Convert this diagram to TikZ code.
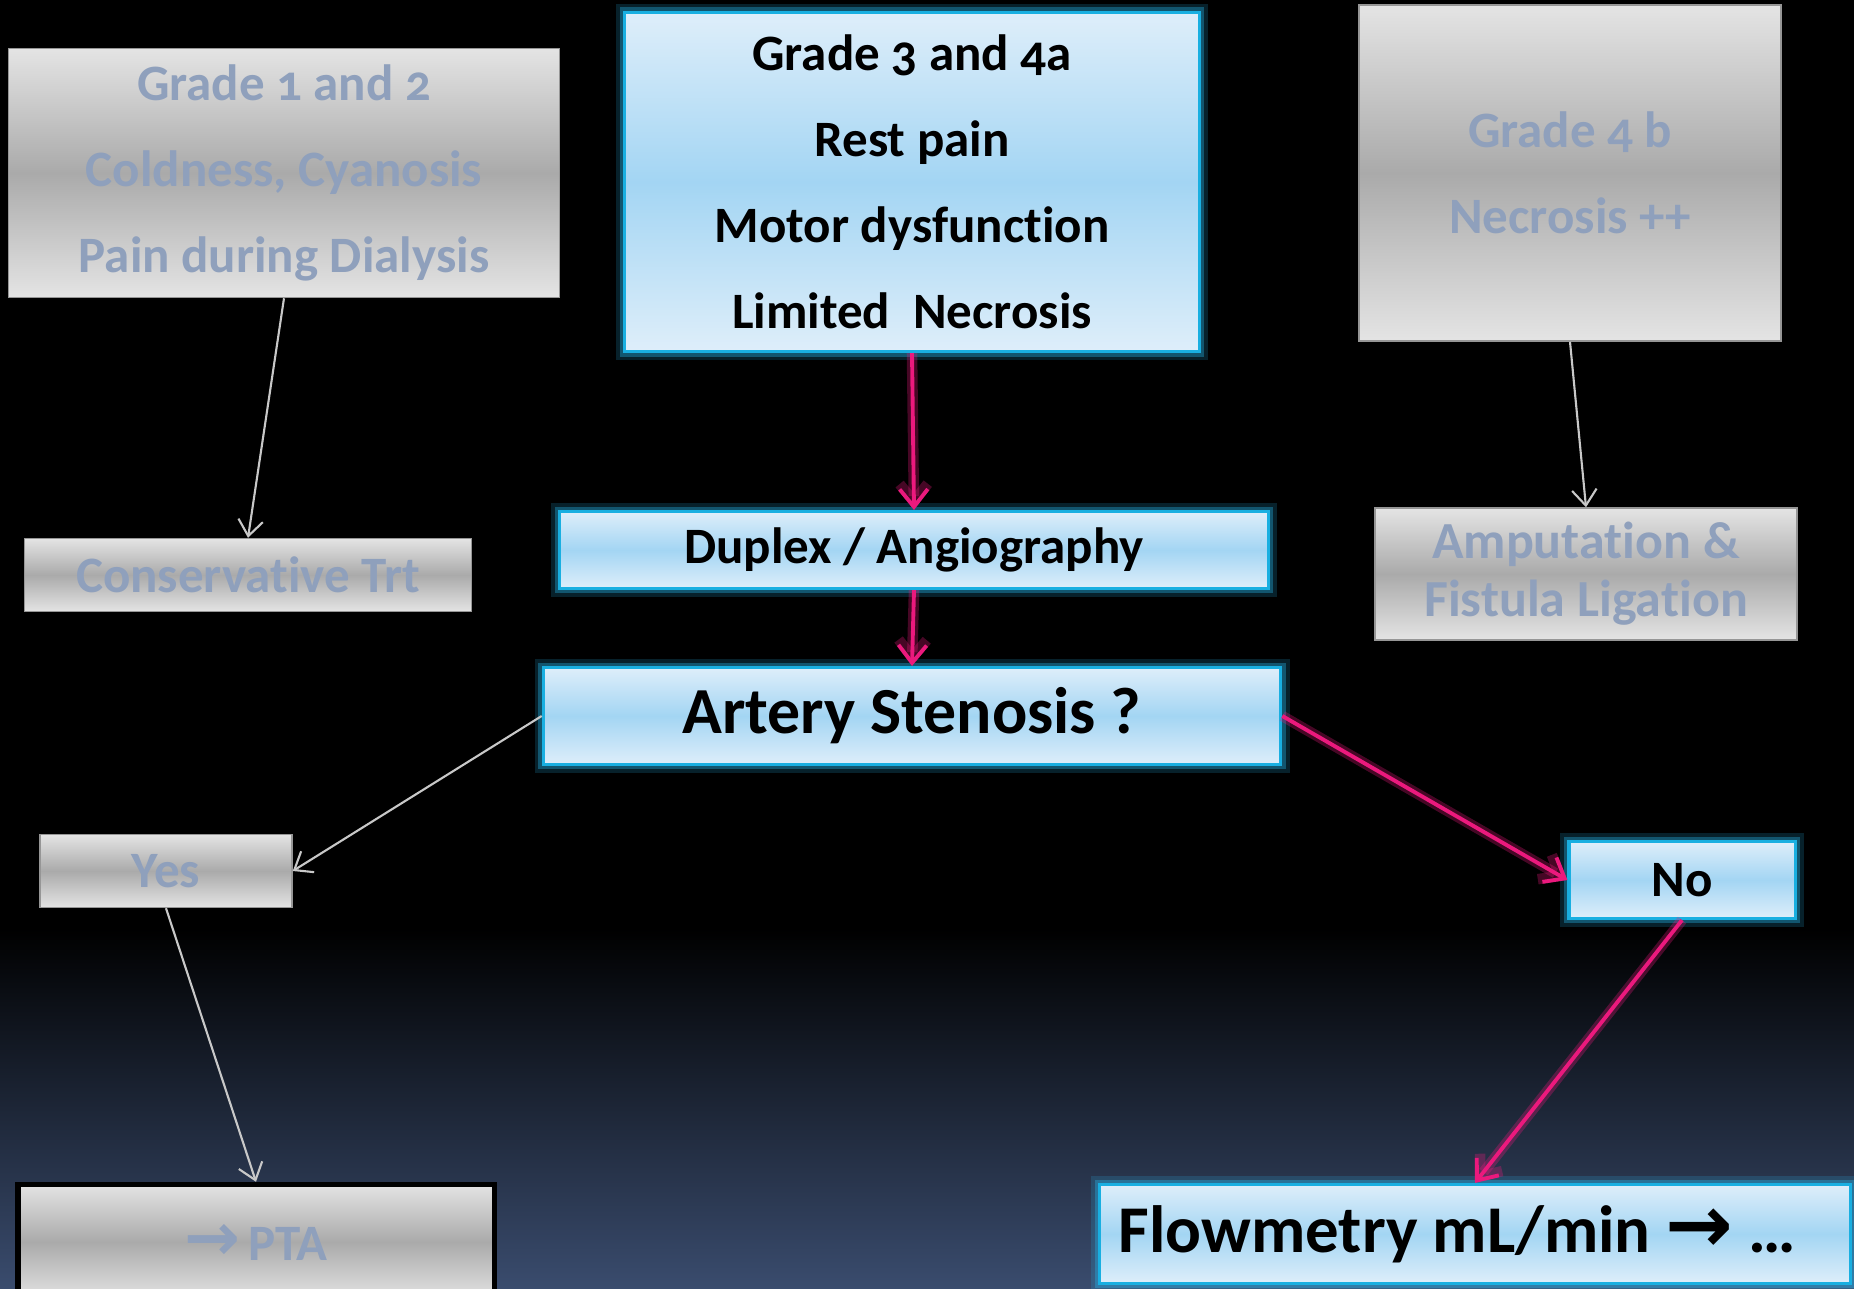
\documentclass[tikz,border=0pt]{standalone}
\usepackage{fontspec}
\setmainfont{Carlito}[Numbers=OldStyle, Ligatures=NoCommon]
\newfontfamily\arrowfont{DejaVu Sans}
\usetikzlibrary{arrows.meta}

\definecolor{bgbottom}{RGB}{58,76,110}
\definecolor{greyhi}{RGB}{228,228,228}
\definecolor{greylo}{RGB}{170,170,170}
\definecolor{greyedge}{RGB}{150,150,150}
\definecolor{greytext}{RGB}{143,160,188}
\definecolor{bluehi}{RGB}{222,238,250}
\definecolor{bluelo}{RGB}{163,213,243}
\definecolor{blueedge}{RGB}{25,175,225}
\definecolor{blueglow}{RGB}{40,185,240}
\definecolor{pinkline}{RGB}{235,25,125}
\definecolor{arrowgrey}{RGB}{200,200,200}

\pgfdeclareverticalshading{slidebg}{100bp}{color(0bp)=(bgbottom); color(25bp)=(bgbottom); color(39bp)=(black); color(100bp)=(black)}

\newcommand{\bigarrow}[1]{{\arrowfont\bfseries\fontsize{#1}{#1}\selectfont →}}

\tikzset{
  greybox/.style={rectangle, inner sep=0pt, draw=greyedge, line width=0.4pt,
    top color=greyhi, bottom color=greyhi, middle color=greylo,
    text=greytext, align=center, font=\fontsize{14.5}{24.5}\selectfont\bfseries},
  bluebox/.style={rectangle, inner sep=0pt, draw=blueedge, line width=0.9pt,
    top color=bluehi, bottom color=bluehi, middle color=bluelo,
    preaction={draw=blueglow, line width=5pt, opacity=0.18},
    preaction={draw=blueglow, line width=2.8pt, opacity=0.35},
    text=black, align=center, font=\fontsize{14.5}{24.5}\selectfont\bfseries},
  pinkarrow/.style={draw=pinkline, line width=1.1pt, -{Straight Barb[length=5pt,width=8pt]},
    preaction={draw=pinkline, line width=3pt, opacity=0.3}},
  greyarrow/.style={draw=arrowgrey, line width=0.6pt, -{Straight Barb[length=4.5pt,width=7pt]}}
}

\begin{document}
\begin{tikzpicture}[x=0.01cm, y=-0.01cm]
\useasboundingbox (0,0) rectangle (1854,1289);
\shade[shading=slidebg] (0,0) rectangle (1854,1289);

% top row
\node[greybox, minimum width=5.51cm, minimum height=2.49cm] (gradeA) at (284,173) {Grade 1 and 2\\Coldness, Cyanosis\\Pain during Dialysis};
\node[bluebox, minimum width=5.74cm, minimum height=3.39cm] (gradeB) at (912,182) {Grade 3 and 4a\\Rest pain\\Motor dysfunction\\Limited\ \ Necrosis};
\node[greybox, minimum width=4.22cm, minimum height=3.36cm] (gradeC) at (1570,173) {Grade 4 b\\Necrosis ++};

% middle
\node[greybox, minimum width=4.47cm, minimum height=0.73cm] (cons) at (248,575) {Conservative Trt};
\node[bluebox, minimum width=7.08cm, minimum height=0.77cm] (duplex) at (914,550) {Duplex / Angiography};
\node[greybox, minimum width=4.22cm, minimum height=1.32cm, font=\fontsize{14.8}{16.5}\selectfont\bfseries] (amput) at (1586,574) {Amputation \&\\Fistula Ligation};
\node[bluebox, minimum width=7.37cm, minimum height=0.97cm, font=\fontsize{18.7}{22}\selectfont\bfseries] (stenosis) at (912,716) {Artery Stenosis ?};

% answers
\node[greybox, minimum width=2.52cm, minimum height=0.73cm] (yes) at (166,871) {Yes};
\node[bluebox, minimum width=2.26cm, minimum height=0.77cm] (no) at (1682,880) {No};
\node[greybox, draw=black, line width=1.5pt, minimum width=4.76cm, minimum height=1.15cm] (pta) at (256,1242) {\bigarrow{19}\,PTA};
\node[bluebox, minimum width=7.50cm, minimum height=0.99cm, font=\fontsize{19}{22}\selectfont\bfseries] (flow) at (1475,1234) {Flowmetry mL/min \bigarrow{23} \dots\hspace{0.35cm}};

% connectors
\draw[greyarrow] (gradeA.south) -- (cons.north);
\draw[pinkarrow] (gradeB.south) -- (duplex.north);
\draw[greyarrow] (gradeC.south) -- (amput.north);
\draw[pinkarrow] (duplex.south) -- (stenosis.north);
\draw[greyarrow] (stenosis.west) -- (yes.east);
\draw[pinkarrow] (stenosis.east) -- (no.west);
\draw[pinkarrow] (no.south) -- (flow.north);
\draw[greyarrow] (yes.south) -- (pta.north);
\end{tikzpicture}
\end{document}
